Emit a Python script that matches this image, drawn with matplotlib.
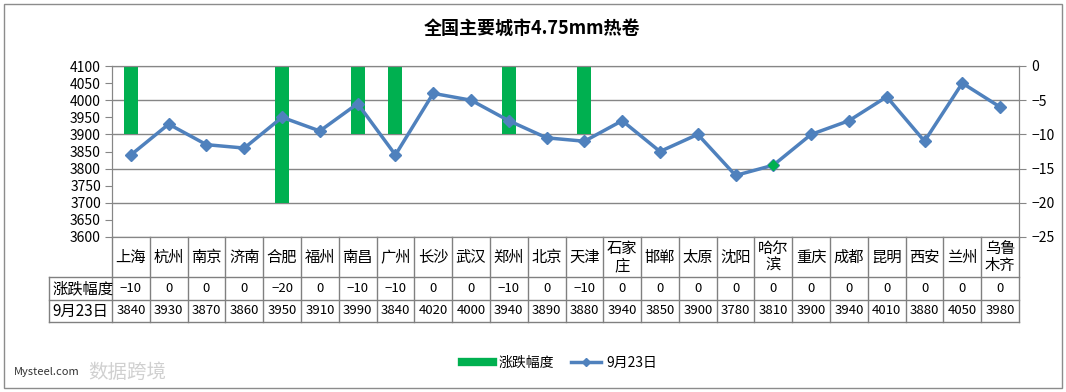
import matplotlib.pyplot as plt
from matplotlib.lines import Line2D
from matplotlib.patches import Rectangle

plt.rcParams['font.family'] = ['Noto Sans CJK SC', 'DejaVu Sans']
plt.rcParams['axes.unicode_minus'] = True

# 数据
cities = ['上海', '杭州', '南京', '济南', '合肥', '福州', '南昌', '广州', '长沙', '武汉', '郑州', '北京',
          '天津', '石家\n庄', '邯郸', '太原', '沈阳', '哈尔\n滨', '重庆', '成都', '昆明', '西安', '兰州', '乌鲁\n木齐']
change = [-10, 0, 0, 0, -20, 0, -10, -10, 0, 0, -10, 0, -10, 0, 0, 0, 0, 0, 0, 0, 0, 0, 0, 0]
price = [3840, 3930, 3870, 3860, 3950, 3910, 3990, 3840, 4020, 4000, 3940, 3890,
         3880, 3940, 3850, 3900, 3780, 3810, 3900, 3940, 4010, 3880, 4050, 3980]
row_labels = ['涨跌幅度', '9月23日']

green = '#00B050'
blue = '#4F81BD'
gray = '#868686'

fig = plt.figure(figsize=(10.66, 3.92), dpi=100)
fig.patches.append(Rectangle((4 / 1066, 4 / 392), 1058 / 1066, 384 / 392, transform=fig.transFigure,
                             fill=False, edgecolor='#8c8c8c', lw=1))

ax = fig.add_axes([112 / 1066, 1 - 237 / 392, 907 / 1066, 171 / 392])
x = list(range(len(cities)))

# 柱子 (右轴)
ax.bar(x, change, width=0.37, color=green, zorder=2)
ax.set_ylim(-25, 0)
ax.set_yticks(range(-25, 1, 5))
ax.yaxis.grid(True, color=gray, lw=1)
ax.set_axisbelow(True)
ax.set_xlim(-0.5, len(cities) - 0.5)
ax.set_xticks([])
for s in ax.spines.values():
    s.set_color(gray)

# 折线 (左轴)
ax2 = ax.twinx()
ax.yaxis.tick_right()
ax.tick_params(axis='y', direction='out', length=5, color=gray, labelsize=10, pad=4)
ax2.yaxis.tick_left()
ax2.plot(x, price, color=blue, lw=2.5, marker='D', ms=6, zorder=3)
ax2.plot([17], [price[17]], ls='none', marker='D', ms=5, color=green, zorder=4)
ax2.set_ylim(3600, 4100)
ax2.set_yticks(range(3600, 4101, 50))
ax2.tick_params(axis='y', direction='out', length=5, color=gray, labelsize=10, pad=3)
for s in ax2.spines.values():
    s.set_color(gray)

# 数据表
tr = ax.get_xaxis_transform()
ys = [0, -0.234, -0.368, -0.497]
lab_left = -0.5 - 63 / 37.8
kw = dict(transform=tr, clip_on=False, color='#808080', lw=1)
for i in range(len(cities) + 1):
    ax.add_line(Line2D([i - 0.5, i - 0.5], [ys[0], ys[3]], **kw))
for yy in ys[1:]:
    ax.add_line(Line2D([lab_left, len(cities) - 0.5], [yy, yy], **kw))
ax.add_line(Line2D([lab_left, lab_left], [ys[1], ys[3]], **kw))

for i, c in enumerate(cities):
    ax.text(i, (ys[0] + ys[1]) / 2, c, transform=tr, ha='center', va='center', fontsize=11,
            linespacing=1.0)
    ax.text(i, (ys[1] + ys[2]) / 2, f'{change[i]}'.replace('-', '−'), transform=tr,
            ha='center', va='center', fontsize=9.5)
    ax.text(i, (ys[2] + ys[3]) / 2, str(price[i]), transform=tr, ha='center', va='center', fontsize=9.5)
for k, lab in enumerate(row_labels):
    ax.text(lab_left + 0.08, (ys[k + 1] + ys[k + 2]) / 2, lab, transform=tr, ha='left', va='center',
            fontsize=11)

fig.text(532 / 1066, 1 - 28 / 392, '全国主要城市4.75mm热卷', ha='center', va='center',
         fontsize=13, fontweight='bold')

handles = [Line2D([], [], color=green, lw=6),
           Line2D([], [], color=blue, lw=2.5, marker='D', ms=4)]
fig.legend(handles, ['涨跌幅度', '9月23日'], loc='center', bbox_to_anchor=(560 / 1066, 1 - 363 / 392),
           ncol=2, frameon=False, fontsize=10, handlelength=2.2, columnspacing=1.2, handletextpad=0.4)

# 水印
fig.text(14 / 1066, 1 - 372 / 392, 'Mysteel.com', fontsize=8, color='#333333', ha='left', va='center')
fig.text(88 / 1066, 1 - 372 / 392, '数据跨境', fontsize=14, color='#d0d0d0', ha='left', va='center')

fig.savefig('out.png', dpi=100)
